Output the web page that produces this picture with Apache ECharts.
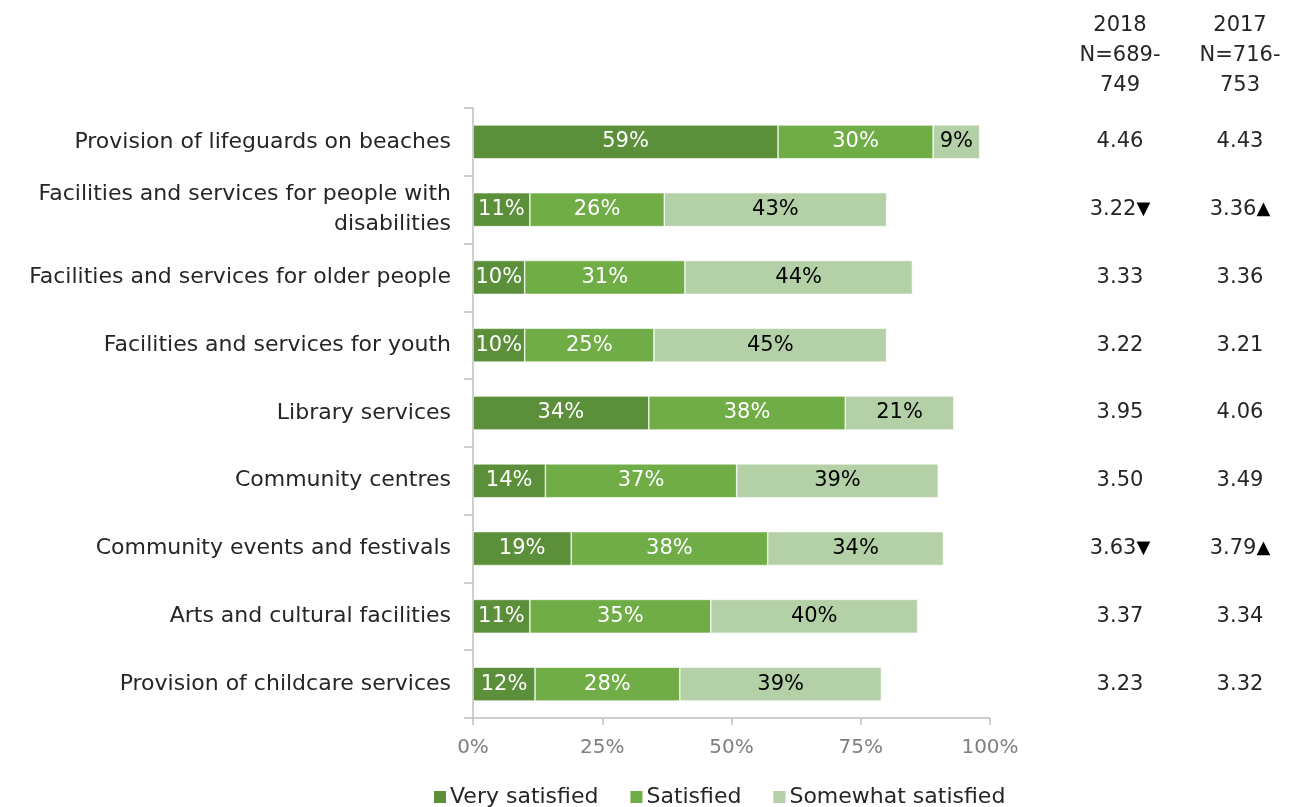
<!DOCTYPE html>
<html>
<head>
<meta charset="utf-8">
<script src="https://cdn.jsdelivr.net/npm/echarts@6/dist/echarts.min.js"></script>
<style>
  html, body { margin: 0; padding: 0; background: #fff; }
  #chart { width: 1290px; height: 807px; }
</style>
</head>
<body>
<div id="chart"></div>
<script>
// Satisfaction with community services, top to bottom
const categories = [
  'Provision of lifeguards on beaches',
  'Facilities and services for people with\ndisabilities',
  'Facilities and services for older people',
  'Facilities and services for youth',
  'Library services',
  'Community centres',
  'Community events and festivals',
  'Arts and cultural facilities',
  'Provision of childcare services'
];
const verySatisfied = [59, 11, 10, 10, 34, 14, 19, 11, 12];
const satisfied = [30, 26, 31, 25, 38, 37, 38, 35, 28];
const somewhatSatisfied = [9, 43, 44, 45, 21, 39, 34, 40, 39];

// Mean scores per year; trend marks: 'down', 'up' or ''
const mean2018 = ['4.46', '3.22', '3.33', '3.22', '3.95', '3.50', '3.63', '3.37', '3.23'];
const trend2018 = ['', 'down', '', '', '', '', 'down', '', ''];
const mean2017 = ['4.43', '3.36', '3.36', '3.21', '4.06', '3.49', '3.79', '3.34', '3.32'];
const trend2017 = ['', 'up', '', '', '', '', 'up', '', ''];
const header2018 = '2018\nN=689-\n749';
const header2017 = '2017\nN=716-\n753';

const xTicks = [0, 25, 50, 75, 100];

const FONT = '"DejaVu Sans", sans-serif';
const TEXT = '#262626';
const colors = ['#5B8F3A', '#70AD47', '#B4D0A6'];

const chart = echarts.init(document.getElementById('chart'));

function meanLabels(values, trends) {
  return values.map((v, i) => trends[i] === 'down' ? v + '{tri|▼}'
                            : trends[i] === 'up' ? v + '{tri|▲}' : v);
}
const labels2018 = meanLabels(mean2018, trend2018);
const labels2017 = meanLabels(mean2017, trend2017);

function meanAxis(labels, offset) {
  return {
    type: 'category',
    data: labels,
    inverse: true,
    position: 'right',
    offset: offset,
    axisLine: { show: false },
    axisTick: { show: false },
    axisLabel: {
      align: 'center',
      margin: 0,
      fontFamily: FONT,
      fontSize: 21,
      color: TEXT,
      rich: { tri: { fontFamily: FONT, fontSize: 18, color: '#000' } }
    }
  };
}

function barSeries(name, data, idx, labelColor) {
  return {
    name: name,
    type: 'bar',
    stack: 'total',
    data: data,
    barWidth: '50%',
    itemStyle: { color: colors[idx], borderColor: '#fff', borderWidth: 0.6 },
    label: {
      show: true,
      position: 'inside',
      formatter: '{c}%',
      fontFamily: FONT,
      fontSize: 21,
      color: labelColor
    }
  };
}

function header(text, x) {
  return {
    type: 'text', x: x, y: 11,
    style: { text: text, textAlign: 'center', fontFamily: FONT, fontSize: 21, lineHeight: 30, fill: TEXT }
  };
}

chart.setOption({
  backgroundColor: '#fff',
  animation: false,
  textStyle: { fontFamily: FONT },
  grid: { left: 473, right: 300, top: 108, bottom: 89, containLabel: false },
  xAxis: {
    type: 'value',
    min: 0,
    max: 100,
    interval: 25,
    splitLine: { show: false },
    axisLine: { show: true, lineStyle: { color: '#BFBFBF', width: 1.5 } },
    axisTick: { show: true, length: 7, lineStyle: { color: '#BFBFBF', width: 1.5 } },
    axisLabel: {
      margin: 20,
      fontFamily: FONT,
      fontSize: 20,
      color: '#7F7F7F',
      formatter: v => xTicks.includes(v) ? v + '%' : ''
    }
  },
  yAxis: [
    {
      type: 'category',
      data: categories,
      inverse: true,
      axisLine: { show: true, lineStyle: { color: '#BFBFBF', width: 1.5 } },
      axisTick: { show: true, length: 9, lineStyle: { color: '#BFBFBF', width: 1.5 } },
      axisLabel: {
        margin: 22,
        align: 'right',
        fontFamily: FONT,
        fontSize: 22,
        lineHeight: 30,
        color: TEXT
      }
    },
    meanAxis(labels2018, 130),
    meanAxis(labels2017, 250)
  ],
  legend: {
    left: 432,
    top: 786,
    padding: 0,
    itemWidth: 14,
    itemHeight: 14,
    itemGap: 30,
    icon: 'rect',
    textStyle: { fontFamily: FONT, fontSize: 22, color: TEXT, padding: [0, 0, 0, -2] },
    data: ['Very satisfied', 'Satisfied', 'Somewhat satisfied']
  },
  graphic: [header(header2018, 1120), header(header2017, 1240)],
  series: [
    barSeries('Very satisfied', verySatisfied, 0, '#fff'),
    barSeries('Satisfied', satisfied, 1, '#fff'),
    barSeries('Somewhat satisfied', somewhatSatisfied, 2, '#000')
  ]
});
</script>
</body>
</html>
